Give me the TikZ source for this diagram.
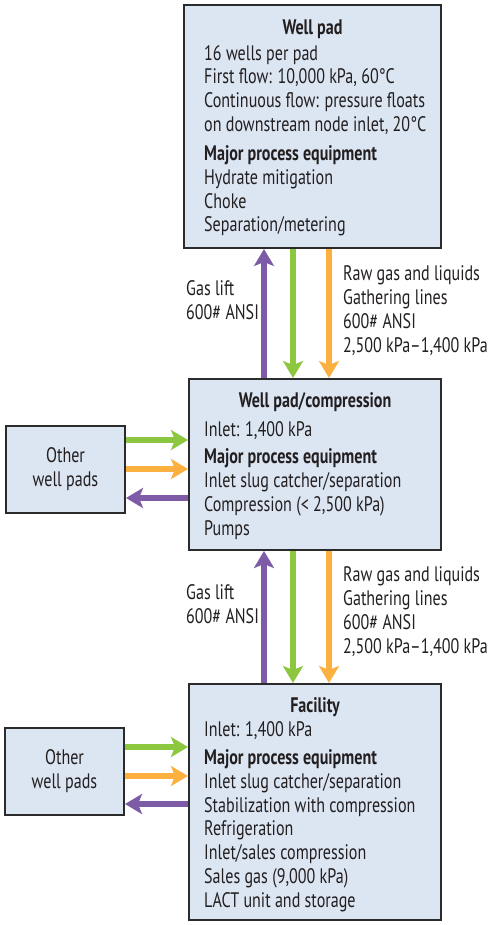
\documentclass[tikz,border=0pt]{standalone}
\usepackage{fontspec}
\setmainfont{PT Sans}[FakeStretch=0.765]
\usetikzlibrary{arrows.meta}
\definecolor{boxfill}{HTML}{DCE6F2}
\definecolor{boxline}{HTML}{2B2B2B}
\definecolor{inktext}{HTML}{231F20}
\definecolor{lpurple}{HTML}{7D5BA6}
\definecolor{lgreen}{HTML}{8DC63F}
\definecolor{lorange}{HTML}{FBB040}
\begin{document}
\begin{tikzpicture}[x=1pt,y=-1pt,
  box/.style={draw=boxline, fill=boxfill, line width=2pt, inner sep=0pt},
  txt/.style={font=\fontsize{21}{23.7}\selectfont, text=inktext, inner sep=0pt, align=left, anchor=base west},
  ttl/.style={font=\fontsize{21}{23.7}\selectfont\bfseries, text=inktext, inner sep=0pt, anchor=base},
  flow/.style={line width=5.5pt, -{Stealth[length=17pt,width=20pt,inset=4pt]}},
]
\useasboundingbox (0,0) rectangle (500,925);
% boxes
\node[box, minimum width=257pt, minimum height=243pt] (wp) at (312.5,126.5) {};
\node[box, minimum width=252pt, minimum height=171pt] (mid) at (315,464.5) {};
\node[box, minimum width=252pt, minimum height=236pt] (fac) at (315,802) {};
\node[box, minimum width=119pt, minimum height=87pt, align=center, font=\fontsize{21}{24}\selectfont, text=inktext] (op1) at (65.5,469.5) {Other\\well pads};
\node[box, minimum width=119pt, minimum height=87pt, align=center, font=\fontsize{21}{24}\selectfont, text=inktext] (op2) at (64.5,771.5) {Other\\well pads};
% column coordinates
\coordinate (cp) at (264,0);
\coordinate (cg) at (293,0);
\coordinate (co) at (329,0);
\coordinate (rg1) at (0,440);
\coordinate (ro1) at (0,469);
\coordinate (rp1) at (0,498);
\coordinate (rg2) at (0,747);
\coordinate (ro2) at (0,776);
\coordinate (rp2) at (0,804);
% vertical arrows
\draw[flow, lpurple] (mid.north -| cp) -- (wp.south -| cp);
\draw[flow, lgreen] (wp.south -| cg) -- (mid.north -| cg);
\draw[flow, lorange] (wp.south -| co) -- (mid.north -| co);
\draw[flow, lpurple] (fac.north -| cp) -- (mid.south -| cp);
\draw[flow, lgreen] (mid.south -| cg) -- (fac.north -| cg);
\draw[flow, lorange] (mid.south -| co) -- (fac.north -| co);
% horizontal arrows
\draw[flow, lgreen] (op1.east |- rg1) -- (mid.west |- rg1);
\draw[flow, lorange] (op1.east |- ro1) -- (mid.west |- ro1);
\draw[flow, lpurple] (mid.west |- rp1) -- (op1.east |- rp1);
\draw[flow, lgreen] (op2.east |- rg2) -- (fac.west |- rg2);
\draw[flow, lorange] (op2.east |- ro2) -- (fac.west |- ro2);
\draw[flow, lpurple] (fac.west |- rp2) -- (op2.east |- rp2);
% texts in boxes (anchored at the baseline of the last line)
\node[ttl] (wpt) at (312.5,35) {Well pad};
\node[txt] (wpb) at (204,232) {16 wells per pad\\First flow: 10,000 kPa, 60°C\\Continuous flow: pressure floats\\on downstream node inlet, 20°C\\[6pt]\textbf{Major process equipment}\\Hydrate mitigation\\Choke\\Separation/metering};
\node[ttl] (midt) at (315,407) {Well pad/compression};
\node[txt] (midb) at (204,535) {Inlet: 1,400 kPa\\[4pt]\textbf{Major process equipment}\\Inlet slug catcher/separation\\Compression (< 2,500 kPa)\\Pumps};
\node[ttl] (fact) at (315,712) {Facility};
\node[txt] (facb) at (204,907) {Inlet: 1,400 kPa\\[5pt]\textbf{Major process equipment}\\Inlet slug catcher/separation\\Stabilization with compression\\Refrigeration\\Inlet/sales compression\\Sales gas (9,000 kPa)\\LACT unit and storage};
% arrow labels
\node[txt] (gl1) at (186,319) {Gas lift\\600\# ANSI};
\node[txt] (rg1l) at (343,352) {Raw gas and liquids\\Gathering lines\\600\# ANSI\\2,500 kPa–1,400 kPa};
\node[txt] (gl2) at (186,623) {Gas lift\\600\# ANSI};
\node[txt] (rg2l) at (343,653) {Raw gas and liquids\\Gathering lines\\600\# ANSI\\2,500 kPa–1,400 kPa};
\end{tikzpicture}
\end{document}
